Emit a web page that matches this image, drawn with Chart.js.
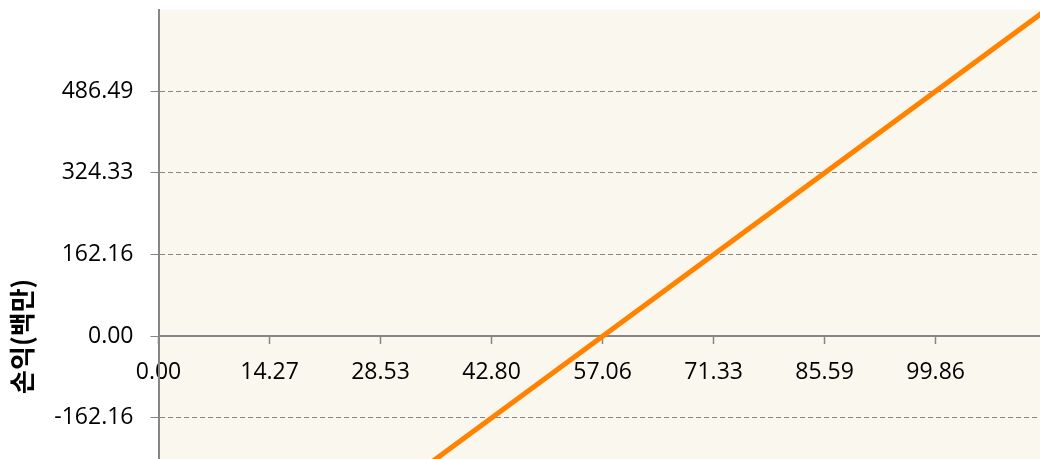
<!DOCTYPE html>
<html>
<head>
<meta charset="utf-8">
<script src="https://cdn.jsdelivr.net/npm/chart.js@4/dist/chart.umd.min.js"></script>
<style>
  body { margin: 0; background: #ffffff; }
  #wrap { width: 1040px; height: 459px; overflow: hidden; position: relative; }
</style>
</head>
<body>
<div id="wrap">
  <canvas id="chart" width="1048" height="673"></canvas>
</div>
<script>
// Break-even line: profit (millions) vs quantity
const lineX = [0, 114.13];
const lineY = [-648.65, 648.65];

// Axis ranges and tick labels
const xMin = 0;
const xMax = 114.13;
const yMin = -648.65;
const yMax = 648.65;
const xTicks = [0, 14.27, 28.53, 42.8, 57.06, 71.33, 85.59, 99.86];
const yTicks = [-486.49, -324.33, -162.16, 0, 162.16, 324.33, 486.49];

const yTitle = "손익(백만)";
const axisGrey = "#868686";
const tickFont = { family: "'Open Sans', sans-serif", size: 23 };

// Cream plot background
const plotBackground = {
  id: "plotBackground",
  beforeDraw(chart) {
    const { ctx, chartArea } = chart;
    ctx.save();
    ctx.fillStyle = "#faf7ef";
    ctx.fillRect(chartArea.left, chartArea.top, chartArea.right - chartArea.left, chartArea.bottom - chartArea.top);
    ctx.restore();
  },
};

const ctx = document.getElementById("chart").getContext("2d");

new Chart(ctx, {
  type: "line",
  data: {
    datasets: [
      {
        label: "손익",
        data: lineX.map((x, i) => ({ x: x, y: lineY[i] })),
        borderColor: "#ff8200",
        borderWidth: 5,
        pointRadius: 0,
        fill: false,
        tension: 0,
      },
    ],
  },
  options: {
    responsive: false,
    animation: false,
    devicePixelRatio: 1,
    layout: {
      padding: { top: 9.5, right: 1.3, bottom: 10, left: 0 },
    },
    plugins: {
      legend: { display: false },
      tooltip: { enabled: false },
    },
    scales: {
      x: {
        type: "linear",
        min: xMin,
        max: xMax,
        position: { y: 0 },
        afterBuildTicks: (scale) => {
          scale.ticks = xTicks.map((v) => ({ value: v }));
        },
        ticks: {
          color: "#000000",
          font: tickFont,
          padding: 15,
          maxRotation: 0,
          autoSkip: false,
          callback: (value) => value.toFixed(2),
        },
        grid: {
          drawOnChartArea: false,
          drawTicks: true,
          tickLength: 7,
          tickColor: axisGrey,
          tickWidth: 1.5,
        },
        border: {
          color: axisGrey,
          width: 2,
        },
      },
      y: {
        type: "linear",
        min: yMin,
        max: yMax,
        afterFit: (scale) => {
          // fixed axis width, and no label overhang padding at the ends
          scale.width = 158.5;
          scale.paddingTop = 0;
          scale.paddingBottom = 0;
        },
        afterBuildTicks: (scale) => {
          scale.ticks = yTicks.map((v) => ({ value: v }));
        },
        ticks: {
          color: "#000000",
          font: tickFont,
          padding: 17,
          autoSkip: false,
          callback: (value) => value.toFixed(2),
        },
        grid: {
          color: "#858585",
          lineWidth: 1,
          drawTicks: true,
          tickLength: 8,
          tickColor: "#858585",
        },
        border: {
          color: axisGrey,
          width: 2,
          dash: [5, 3],
        },
        title: {
          display: true,
          text: yTitle,
          color: "#000000",
          font: { family: "'Noto Sans CJK KR', sans-serif", size: 26, weight: "bold" },
          padding: { top: 7, bottom: 0 },
        },
      },
    },
  },
  plugins: [plotBackground],
});
</script>
</body>
</html>
